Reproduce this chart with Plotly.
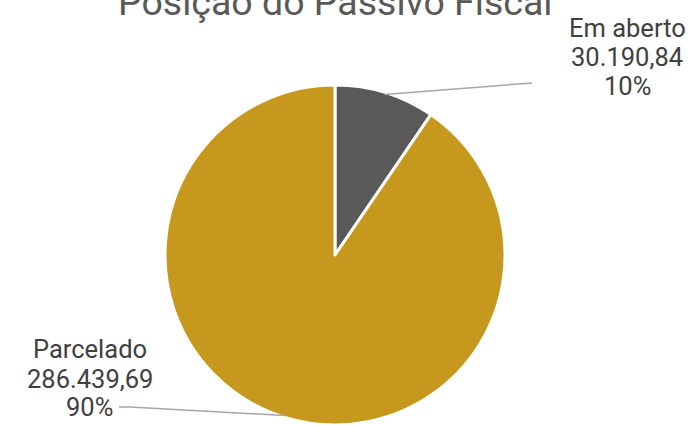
import math
import plotly.graph_objects as go

categories = ["Em aberto", "Parcelado"]
values = [30190.84, 286439.69]
value_labels = ["30.190,84", "286.439,69"]
pct_labels = ["10%", "90%"]
colors = ["#595959", "#C6991E"]
title_text = "Posição do Passivo Fiscal"

W, H = 692, 425
dom_x = [165 / W, 505 / W]
dom_y = [0.0, 340 / H]
cx, cy = (dom_x[0] + dom_x[1]) / 2 * W, H - (dom_y[0] + dom_y[1]) / 2 * H
R = 168

fig = go.Figure(go.Pie(
    labels=categories, values=values, sort=False, direction="clockwise", rotation=0,
    marker=dict(colors=colors, line=dict(color="white", width=3)),
    textinfo="none", hoverinfo="skip", showlegend=False,
    domain=dict(x=dom_x, y=dom_y),
))

def px(x, y):
    return x / W, 1 - y / H

total = sum(values)
cum = 0
mids = []
for v in values:
    mids.append((cum + v / 2) / total * 2 * math.pi)
    cum += v

edge = [(cx + R * math.sin(a), cy - R * math.cos(a)) for a in mids]

FS = 25.5
label_x = [627, 89.5]
label_baselines = [[37, 66, 95], [358, 388, 416]]
line_end = [[(532, 83)], [(130, 407), (119, 407)]]

for i, cat in enumerate(categories):
    lines = [cat, value_labels[i], pct_labels[i]]
    for t, bl in zip(lines, label_baselines[i]):
        lx, ly = px(label_x[i], bl - 0.355 * FS)
        fig.add_annotation(x=lx, y=ly, xref="paper", yref="paper", showarrow=False,
                           text=t, xanchor="center", yanchor="middle",
                           font=dict(family="Roboto", size=FS, color="#404040"))
    pts = [edge[i]] + line_end[i]
    path = "M " + " L ".join(f"{p[0] / W},{1 - p[1] / H}" for p in pts)
    fig.add_shape(type="path", path=path, xref="paper", yref="paper",
                  line=dict(color="#A6A6A6", width=1.5))

tx, ty = px(335, 15 - 0.355 * 37.5)
fig.add_annotation(x=tx, y=ty, xref="paper", yref="paper", showarrow=False,
                   text=title_text, xanchor="center", yanchor="middle",
                   font=dict(family="Roboto", size=37.5, color="#595959"))

fig.update_layout(width=W, height=H, margin=dict(l=0, r=0, t=0, b=0),
                  paper_bgcolor="white", plot_bgcolor="white")
fig.write_html("out.html", config={"displayModeBar": False},
               post_script="document.body.style.margin='0';document.body.style.overflow='hidden';")
